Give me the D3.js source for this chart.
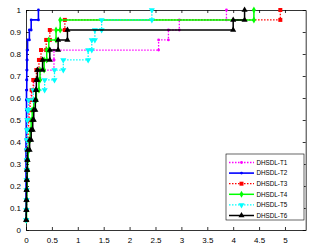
<!DOCTYPE html>
<head>
    <meta charset="utf-8">
    <title>DHSDL curves</title>
    <style>
        body { margin: 0; background: #fff; }
        text { font-family: Arial, "Liberation Sans", sans-serif; }
        .axis text { font-size: 8px; fill: #000; }
        .axis path, .axis line { stroke: #000; stroke-width: 0.8; }
    </style>
    <script src="https://d3js.org/d3.v7.min.js"></script>
</head>
<body>
    <script>
        // y levels shared by every curve
        var levels = [0.045, 0.091, 0.136, 0.182, 0.227, 0.273, 0.318, 0.364, 0.409, 0.455, 0.5,
                      0.545, 0.591, 0.636, 0.682, 0.727, 0.773, 0.818, 0.864, 0.909, 0.955, 1.0];

        // x at which each curve reaches the level above
        var t1 = [0.005, 0.005, 0.01, 0.01, 0.01, 0.015, 0.015, 0.02, 0.02, 0.025, 0.03,
                  0.04, 0.06, 0.1, 0.15, 0.28, 0.54, 0.54, 2.56, 2.75, 2.96, 3.87];
        var t2 = [0, 0, 0, 0, 0, 0, 0, 0, 0, 0.005, 0.005,
                  0.01, 0.01, 0.01, 0.015, 0.015, 0.02, 0.02, 0.03, 0.065, 0.1, 0.24];
        var t3 = [0.005, 0.005, 0.01, 0.01, 0.015, 0.015, 0.02, 0.02, 0.03, 0.04, 0.05,
                  0.06, 0.08, 0.11, 0.14, 0.2, 0.25, 0.29, 0.39, 0.46, 0.75, 4.91];
        var t4 = [0.005, 0.01, 0.01, 0.015, 0.02, 0.025, 0.03, 0.04, 0.06, 0.08, 0.1,
                  0.12, 0.15, 0.2, 0.25, 0.27, 0.35, 0.4, 0.44, 0.58, 0.66, 4.4];
        var t5 = [0.005, 0.005, 0.01, 0.01, 0.01, 0.015, 0.015, 0.02, 0.02, 0.02, 0.025,
                  0.03, 0.05, 0.14, 0.36, 0.55, 0.72, 1.2, 1.27, 1.33, 1.46, 2.43];
        var t6 = [0.005, 0.005, 0.01, 0.01, 0.015, 0.02, 0.025, 0.03, 0.07, 0.1, 0.13,
                  0.15, 0.18, 0.19, 0.2, 0.22, 0.32, 0.46, 0.62, 0.8, 4.0, 4.22];

        var names = ["DHSDL-T1", "DHSDL-T2", "DHSDL-T3", "DHSDL-T4", "DHSDL-T5", "DHSDL-T6"];
        var xTicks = [0, 0.5, 1, 1.5, 2, 2.5, 3, 3.5, 4, 4.5, 5];
        var yTicks = [0, 0.1, 0.2, 0.3, 0.4, 0.5, 0.6, 0.7, 0.8, 0.9, 1];

        var styles = [
            { color: "#ff00ff", dash: "1.5,1.5", width: 1.3, mark: "dot" },
            { color: "#0000ff", dash: null, width: 1.6, mark: "dot" },
            { color: "#ff0000", dash: "1.5,1.5", width: 1.3, mark: "square" },
            { color: "#00ff00", dash: null, width: 1.5, mark: "diamond" },
            { color: "#00ffff", dash: "1.5,1.5", width: 1.3, mark: "down" },
            { color: "#000000", dash: null, width: 1.5, mark: "up" }
        ];
        var series = [t1, t2, t3, t4, t5, t6];

        var W = 317, H = 249;
        var pLeft = 26, pRight = 305.7, pTop = 10, pBottom = 230;

        var x = d3.scaleLinear().domain([0, 5.4]).range([pLeft, pRight]);
        var y = d3.scaleLinear().domain([0, 1]).range([pBottom, pTop]);
        var fmt = function (d) { return String(d); };

        var svg = d3.select("body").append("svg")
            .attr("width", W)
            .attr("height", H);

        svg.append("g").attr("class", "axis")
            .attr("transform", "translate(0," + pBottom + ")")
            .call(d3.axisBottom(x).tickValues(xTicks).tickSizeInner(-3).tickSizeOuter(0).tickPadding(7).tickFormat(fmt));
        svg.append("g").attr("class", "axis")
            .attr("transform", "translate(" + pLeft + ",0)")
            .call(d3.axisLeft(y).tickValues(yTicks).tickSizeInner(-3).tickSizeOuter(0).tickPadding(5).tickFormat(fmt));
        svg.append("g").attr("class", "axis")
            .attr("transform", "translate(0," + pTop + ")")
            .call(d3.axisTop(x).tickValues(xTicks).tickSizeInner(-3).tickSizeOuter(0).tickFormat(""));
        svg.append("g").attr("class", "axis")
            .attr("transform", "translate(" + pRight + ",0)")
            .call(d3.axisRight(y).tickValues(yTicks).tickSizeInner(-3).tickSizeOuter(0).tickFormat(""));

        function stairs(xs) {
            var pts = [];
            xs.forEach(function (v, i) {
                if (i > 0) pts.push([v, levels[i - 1]]);
                pts.push([v, levels[i]]);
            });
            return pts;
        }

        function marker(g, kind, color, cx, cy) {
            if (kind === "dot") {
                g.append("circle").attr("cx", cx).attr("cy", cy).attr("r", 1.4).attr("fill", color);
            } else if (kind === "square") {
                g.append("rect").attr("x", cx - 2).attr("y", cy - 2).attr("width", 4).attr("height", 4)
                    .attr("fill", color);
            } else if (kind === "diamond") {
                g.append("path").attr("d", d3.symbol().type(d3.symbolDiamond).size(14)())
                    .attr("transform", "translate(" + cx + "," + cy + ")").attr("fill", color);
            } else {
                g.append("path").attr("d", d3.symbol().type(d3.symbolTriangle).size(16)())
                    .attr("transform", "translate(" + cx + "," + cy + ")" + (kind === "down" ? " rotate(180)" : ""))
                    .attr("fill", color);
            }
        }

        var line = d3.line().x(function (d) { return x(d[0]); }).y(function (d) { return y(d[1]); });

        var plot = svg.append("g");
        series.forEach(function (xs, i) {
            var st = styles[i];
            var pts = stairs(xs);
            var g = plot.append("g");
            g.append("path")
                .attr("d", line(pts))
                .attr("fill", "none")
                .attr("stroke", st.color)
                .attr("stroke-width", st.width)
                .attr("stroke-dasharray", st.dash);
            pts.forEach(function (p) { marker(g, st.mark, st.color, x(p[0]), y(p[1])); });
        });

        // legend
        var lg = svg.append("g");
        lg.append("rect")
            .attr("x", 226).attr("y", 154).attr("width", 78).attr("height", 66)
            .attr("fill", "#fff").attr("stroke", "#000").attr("stroke-width", 0.6);
        names.forEach(function (n, i) {
            var st = styles[i];
            var ly = 162.5 + i * 10.6;
            lg.append("line")
                .attr("x1", 229).attr("x2", 254).attr("y1", ly).attr("y2", ly)
                .attr("stroke", st.color).attr("stroke-width", st.width)
                .attr("stroke-dasharray", st.dash);
            marker(lg, st.mark, st.color, 241.5, ly);
            lg.append("text")
                .attr("x", 256.5).attr("y", ly + 2.2)
                .style("font-size", "6.3px")
                .text(n);
        });
    </script>
</body>
